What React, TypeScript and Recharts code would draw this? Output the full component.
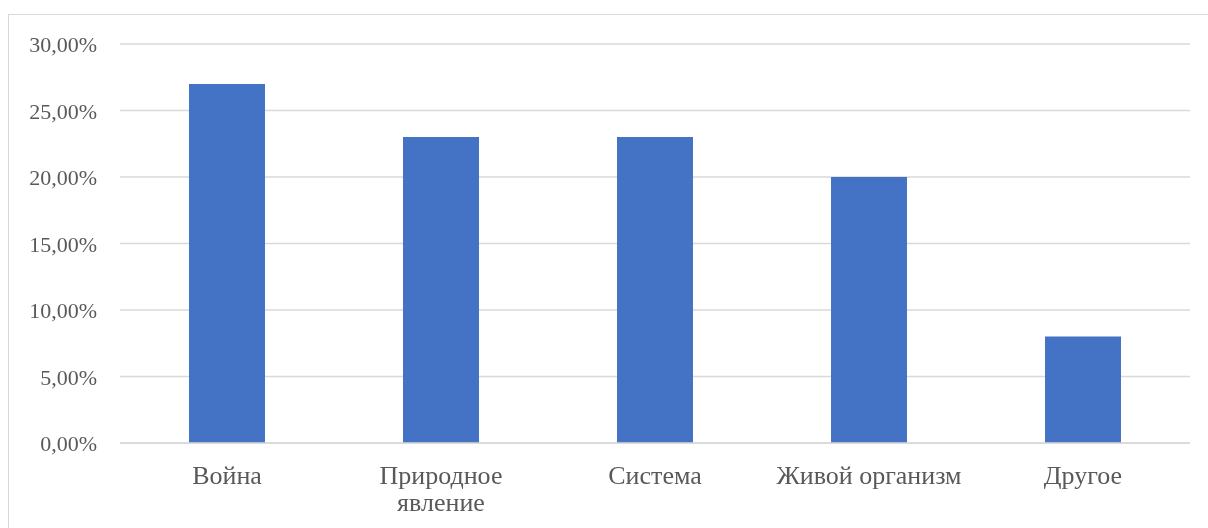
import React from "react";
import { BarChart, Bar, XAxis, YAxis, CartesianGrid } from "recharts";

const categories = ["Война", "Природное явление", "Система", "Живой организм", "Другое"];
const values = [27, 23, 23, 20, 8];
const yTicks = [0, 5, 10, 15, 20, 25, 30];

const data = categories.map((name, i) => ({ name, value: values[i] }));

const FONT = "Liberation Serif";

const wrapLines: Record<string, string[]> = {
  "Природное явление": ["Природное", "явление"],
};

const XTick = (props: any) => {
  const { x, y, payload } = props;
  const lines = wrapLines[payload.value] || [payload.value];
  return (
    <text x={x} y={y} textAnchor="middle" fill="#595959" fontFamily={FONT} fontSize={26}>
      {lines.map((l: string, i: number) => (
        <tspan key={i} x={x} dy={i === 0 ? 41 : 27}>
          {l}
        </tspan>
      ))}
    </text>
  );
};

const YTick = (props: any) => {
  const { x, y, payload } = props;
  const label = Number(payload.value).toFixed(2).replace(".", ",") + "%";
  return (
    <text x={x} y={y} dy={8} textAnchor="end" fill="#595959" fontFamily={FONT} fontSize={22}>
      {label}
    </text>
  );
};

export default function App() {
  return (
    <div style={{ position: "fixed", left: 0, top: 0, width: 1208, height: 528, overflow: "hidden" }}>
      <div
        style={{
          position: "absolute",
          left: 8,
          top: 14,
          width: 1200,
          height: 514,
          borderTop: "1px solid #d9d9d9",
          borderLeft: "1px solid #d9d9d9",
          boxSizing: "border-box",
        }}
      >
        <BarChart
          width={1199}
          height={513}
          data={data}
          margin={{ top: 29, right: 18, bottom: 0, left: 0 }}
          barSize={76}
        >
          <CartesianGrid vertical={false} stroke="#d9d9d9" strokeWidth={1.5} />
          <XAxis
            dataKey="name"
            height={85}
            tickLine={false}
            axisLine={{ stroke: "#d9d9d9", strokeWidth: 1.5 }}
            tickSize={0}
            tickMargin={0}
            interval={0}
            tick={<XTick />}
          />
          <YAxis
            width={111}
            domain={[0, 30]}
            ticks={yTicks}
            axisLine={false}
            tickLine={false}
            tickSize={0}
            tickMargin={23}
            tick={<YTick />}
          />
          <Bar dataKey="value" fill="#4472c4" isAnimationActive={false} />
        </BarChart>
      </div>
    </div>
  );
}
